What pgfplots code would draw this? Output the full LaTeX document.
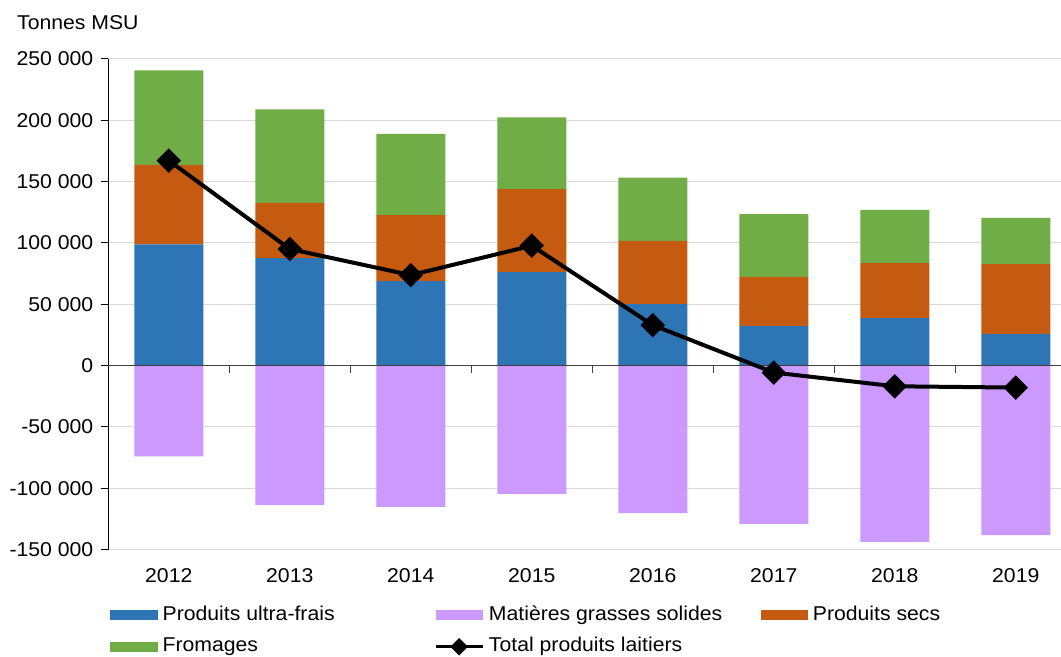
\documentclass[border=0pt]{standalone}
\usepackage{pgfplots}
\pgfplotsset{compat=1.18}
\usepackage{fontspec}
\setmainfont{Liberation Sans}[FakeStretch=1.06]
\definecolor{cblue}{HTML}{2E75B6}
\definecolor{corange}{HTML}{C55A11}
\definecolor{cgreen}{HTML}{70AD47}
\definecolor{cpurple}{HTML}{CC99FF}
\definecolor{gridgray}{HTML}{D9D9D9}
\definecolor{zerogray}{HTML}{404040}
\pgfplotsset{swatch/.style={legend image code/.code={\fill[#1] (0pt,-3.4pt) rectangle (35pt,3.4pt);}}}
\begin{document}
\begin{tikzpicture}
\path[use as bounding box] (-81.2pt,-80.6pt) rectangle (714.5pt,412.1pt);
\begin{axis}[
  at={(0pt,0pt)}, anchor=south west,
  scale only axis, width=714.5pt, height=367.9pt,
  xmin=-0.5, xmax=7.374, ymin=-150000, ymax=250000,
  ybar stacked, bar width=51.75pt,
  axis lines*=left,
  x axis line style={draw=none},
  y axis line style={black, line width=0.75pt},
  xtick={0,...,7}, xticklabels={2012,2013,2014,2015,2016,2017,2018,2019},
  x tick style={draw=none},
  ytick={-150000,-100000,-50000,0,50000,100000,150000,200000,250000},
  yticklabels={{-150 000},{-100 000},{-50 000},{0},{50 000},{100 000},{150 000},{200 000},{250 000}},
  y tick style={black, line width=0.75pt},
  tick align=outside, major tick length=5.25pt,
  ymajorgrids, grid style={color=gridgray, line width=0.75pt},
  scaled y ticks=false,
  tick label style={font=\fontsize{15}{17}\selectfont},
  yticklabel style={xshift=-2.5pt},
  xticklabel style={yshift=-5.5pt},
]
\addplot[fill=cblue, draw=none] coordinates {(0,98860) (1,87660) (2,68870) (3,76220) (4,50080) (5,32100) (6,38640) (7,25570)};
\addplot[fill=corange, draw=none] coordinates {(0,64780) (1,44940) (2,53680) (3,67570) (4,51470) (5,40290) (6,44940) (7,57190)};
\addplot[fill=cgreen, draw=none] coordinates {(0,77050) (1,76220) (2,66420) (3,58500) (4,51720) (5,50980) (6,43300) (7,37580)};
\end{axis}
\begin{axis}[
  at={(0pt,0pt)}, anchor=south west,
  scale only axis, width=714.5pt, height=367.9pt,
  xmin=-0.5, xmax=7.374, ymin=-150000, ymax=250000,
  hide axis, clip=false,
  legend columns=3,
  legend cell align=left,
  legend style={at={(0.002,-0.115)}, anchor=north west, draw=none, fill=none,
    column sep=0pt, row sep=10.2pt, inner sep=0pt,
    font=\fontsize{15}{17}\selectfont,
    nodes={inner ysep=0pt, inner xsep=3.75pt, text height=10.5pt, text depth=3pt}},
]
\addplot[ybar, bar width=51.75pt, bar shift=0pt, fill=cpurple, draw=none, forget plot] coordinates {(0,-74100) (1,-113800) (2,-115200) (3,-104580) (4,-120350) (5,-129090) (6,-143790) (7,-138310)};
\draw[zerogray, line width=0.9pt] (axis cs:-0.5,0) -- (axis cs:7.374,0);
\pgfplotsinvokeforeach{0.5,1.5,2.5,3.5,4.5,5.5,6.5}{\draw[zerogray, line width=0.75pt] (axis cs:#1,0) -- ++(0pt,-5.25pt);}
\addplot[black, line width=3pt, mark=square*, mark size=5pt, mark options={rotate=45, solid}, forget plot] coordinates {(0,167160) (1,95020) (2,73770) (3,97710) (4,32920) (5,-5720) (6,-16910) (7,-17970)};
\addlegendimage{swatch=cblue}
\addlegendentry{\makebox[200pt][l]{Produits ultra-frais}}
\addlegendimage{swatch=cpurple}
\addlegendentry{\makebox[200pt][l]{Matières grasses solides}}
\addlegendimage{swatch=corange}
\addlegendentry{Produits secs}
\addlegendimage{swatch=cgreen}
\addlegendentry{\makebox[200pt][l]{Fromages}}
\addlegendimage{legend image code/.code={\draw[black, line width=2.25pt, mark=square*, mark size=3.5pt, mark options={rotate=45, solid}, mark repeat=2, mark phase=2] plot coordinates {(0pt,0pt) (17.5pt,0pt) (35pt,0pt)};}}
\addlegendentry{Total produits laitiers}
\end{axis}
\node[anchor=west, inner sep=0pt, font=\fontsize{15}{17}\selectfont] at (-68.5pt,395pt) {Tonnes MSU};
\end{tikzpicture}
\end{document}
